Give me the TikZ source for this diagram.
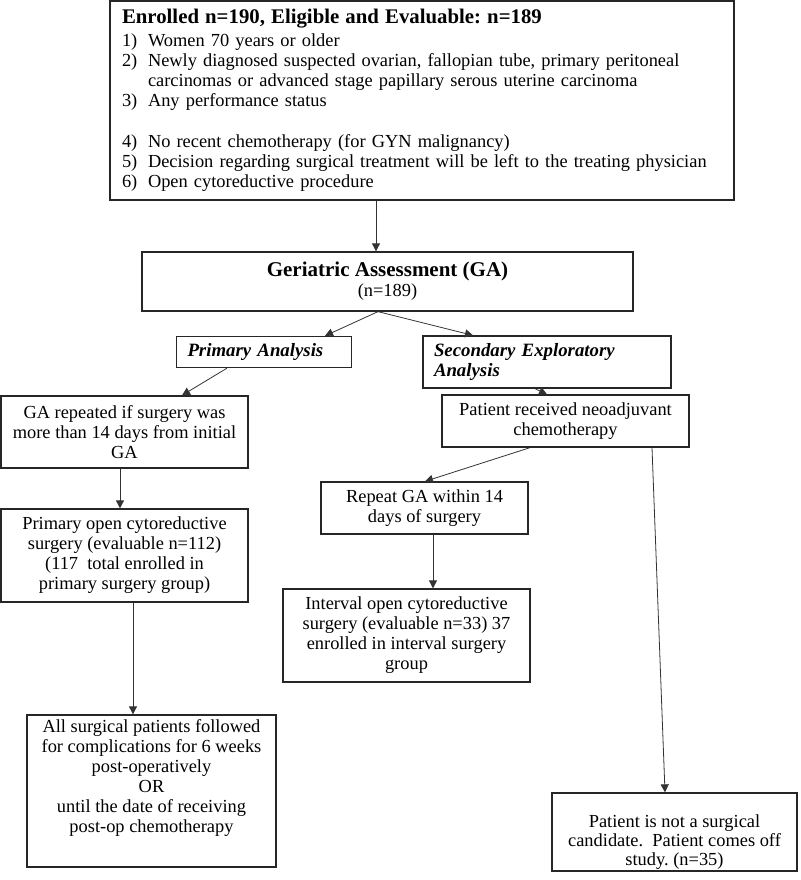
\documentclass[tikz,border=0pt]{standalone}
\usepackage{fontspec}
\setmainfont{Liberation Serif}
\usetikzlibrary{arrows.meta}
\frenchspacing
\begin{document}
\begin{tikzpicture}[x=1pt,y=-1pt,
  box/.style={draw=black!85, line width=1.3pt, inner sep=0pt, align=center,
    font=\fontsize{18.4}{20}\selectfont},
  lbox/.style={draw=black!85, line width=1.3pt, inner ysep=0pt, align=left,
    font=\fontsize{18.8}{20}\selectfont\bfseries\itshape},
  txt/.style={inner sep=0pt, align=center, font=\fontsize{18.4}{19}\selectfont},
  arr/.style={draw=black!80, line width=0.8pt, -{Triangle[length=8pt,width=8pt]}}]
\useasboundingbox (0,0) rectangle (800,880);
\newcommand{\itm}[1]{\makebox[26pt][l]{#1}}
% boxes
\node[box, align=left, inner xsep=12pt, text width=600pt, minimum height=199pt, minimum width=624pt] (top) at (422,100.5)
 {{\fontsize{20.8}{24}\selectfont\bfseries Enrolled n=190, Eligible and Evaluable: n=189}\\[3pt]
  \itm{1)}Women 70 years or older\\
  \itm{2)}Newly diagnosed suspected ovarian, fallopian tube, primary peritoneal\\
  \hspace*{26pt}carcinomas or advanced stage papillary serous uterine carcinoma\\
  \itm{3)}Any performance status\\[21pt]
  \itm{4)}No recent chemotherapy (for GYN malignancy)\\
  \itm{5)}Decision regarding surgical treatment will be left to the treating physician\\
  \itm{6)}Open cytoreductive procedure};
\node[box, minimum width=491pt, minimum height=59pt] (ga) at (387.5,281.5)
 {{\fontsize{21}{23}\selectfont\bfseries Geriatric Assessment (GA)}\\(n=189)};
\node[lbox, inner xsep=11pt, text width=153pt, minimum height=31pt] (prim) at (264,352)
 {Primary Analysis};
\node[lbox, inner xsep=11pt, text width=226pt, minimum height=52pt] (sec) at (547,362)
 {Secondary Exploratory\\Analysis};
\node[box, minimum width=247pt, minimum height=72pt] (garep) at (124.5,432)
 {GA repeated if surgery was\\more than 14 days from initial\\GA};
\node[box, minimum width=247pt, minimum height=93pt] (popen) at (124.5,555.5)
 {Primary open cytoreductive\\surgery (evaluable n=112)\\(117~ total enrolled in\\primary surgery group)};
\node[box, minimum width=249pt, minimum height=152pt] (surg) at (151.5,791)
 {All surgical patients followed\\for complications for 6 weeks\\post-operatively\\OR\\until the date of receiving\\post-op chemotherapy\\[10pt]};
\node[box, minimum width=247pt, minimum height=52pt] (recv) at (565.5,421)
 {Patient received neoadjuvant\\chemotherapy};
\node[box, minimum width=207pt, minimum height=52pt] (rga) at (424.5,508)
 {Repeat GA within 14\\days of surgery};
\node[box, minimum width=247pt, minimum height=93pt] (intv) at (406.5,635.5)
 {Interval open cytoreductive\\surgery (evaluable n=33) 37\\enrolled in interval surgery\\group};
\node[box, minimum width=245pt, minimum height=78pt] (notc) at (674.5,832) {};
\node[txt] (notct) at ([yshift=-10pt]notc.center)
 {Patient is not a surgical\\candidate.~ Patient comes off\\study. (n=35)};
% x positions for connectors
\coordinate (x376) at (376,0);
\coordinate (x378) at (378,0);
\coordinate (x325) at (325,0);
\coordinate (x473) at (473,0);
\coordinate (x227) at (227,0);
\coordinate (x182) at (182,0);
\coordinate (x120) at (120,0);
\coordinate (x133) at (133,0);
\coordinate (x535) at (535,0);
\coordinate (x547) at (547,0);
\coordinate (x530) at (530,0);
\coordinate (x425) at (425,0);
\coordinate (x433) at (433,0);
\coordinate (x652) at (652,0);
\coordinate (x665) at (665,0);
% connectors
\draw[arr] (top.south -| x376) -- (ga.north -| x376);
\draw[arr] (ga.south -| x378) -- (prim.north -| x325);
\draw[arr] (ga.south -| x378) -- (sec.north -| x473);
\draw[arr] (prim.south -| x227) -- (garep.north -| x182);
\draw[arr] (garep.south -| x120) -- (popen.north -| x120);
\draw[arr] (popen.south -| x133) -- (surg.north -| x133);
\draw[arr] (sec.south -| x535) -- (recv.north -| x547);
\draw[arr] (recv.south -| x530) -- (rga.north -| x425);
\draw[arr] (rga.south -| x433) -- (intv.north -| x433);
\draw[arr] (recv.south -| x652) -- (notc.north -| x665);
\end{tikzpicture}
\end{document}
